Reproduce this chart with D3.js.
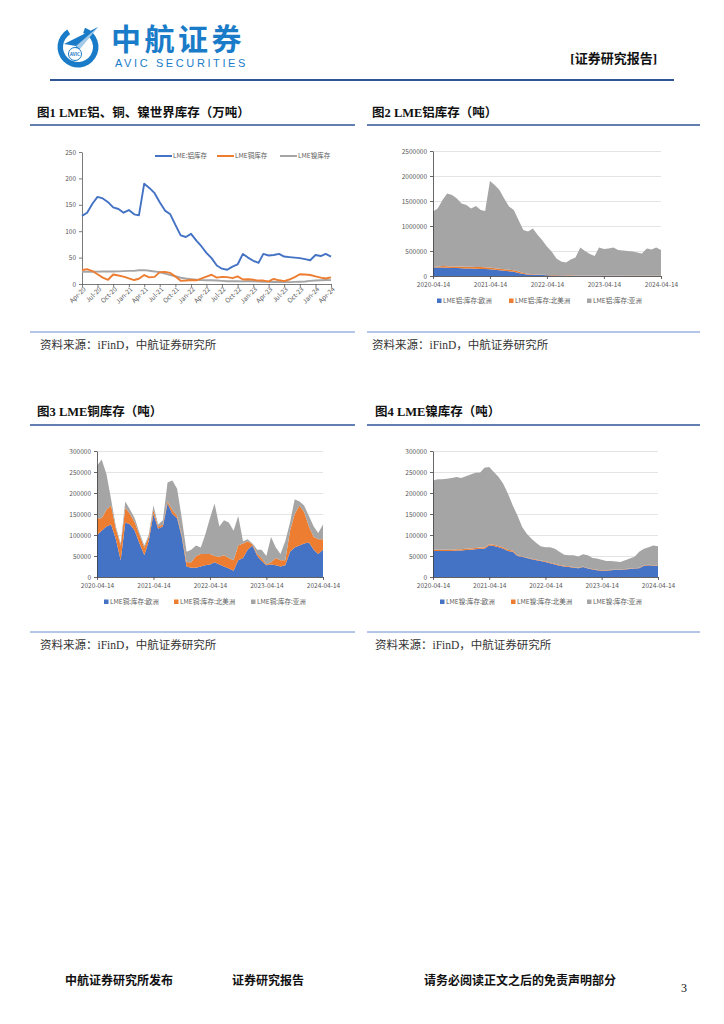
<!DOCTYPE html>
<html>
<head>
<meta charset="utf-8">
<script src="https://cdn.jsdelivr.net/npm/d3@7"></script>
<style>
  body { margin: 0; background: #fff; }
  svg text { font-family: "Noto Sans CJK SC", "Noto Sans", sans-serif; }
  .tick text { fill: #595959; font-size: 6.5px; }
  .title { font-family: "Liberation Serif", "Noto Sans CJK SC", serif !important; font-weight: bold; font-size: 12.5px; fill: #111; }
  .source { font-family: "Liberation Serif", "Noto Sans CJK SC", serif !important; font-size: 11.5px; fill: #333; }
  .foot { font-family: "Liberation Serif", "Noto Sans CJK SC", serif !important; font-weight: bold; font-size: 12px; fill: #111; }
  .legend text { fill: #595959; font-size: 6.5px; }
</style>
</head>
<body>
<div id="viz"></div>
<script>
const width = 724;
const height = 1024;

// monthly sample dates 2020-04-14 .. 2024-04-14 (category axis)
const startDate = new Date(2020, 3, 14);
const dates = d3.range(49).map(i => d3.timeMonth.offset(startDate, i));

// LME aluminium stock by region (t)
const aluEurope = [170000,170000,170000,165000,160000,160000,155000,150000,150000,145000,140000,140000,135000,125000,115000,105000,95000,85000,60000,40000,30000,25000,20000,18000,15000,12000,10000,8000,6000,5000,5000,4000,4000,4000,3000,3000,3000,3000,3000,3000,3000,2000,2000,2000,2000,2000,2000,2000,2000];
const aluNAmerica = [5000,20000,30000,30000,30000,30000,35000,35000,35000,35000,40000,35000,35000,30000,30000,30000,30000,30000,30000,20000,15000,10000,10000,7000,7000,8000,8000,8000,9000,8000,7000,7000,6000,6000,6000,6000,5000,5000,5000,5000,5000,5000,5000,5000,4000,4000,4000,4000,4000];
const aluAsia = [1115000,1160000,1320000,1455000,1430000,1360000,1260000,1235000,1165000,1220000,1140000,1125000,1730000,1665000,1575000,1415000,1265000,1205000,1030000,860000,845000,915000,790000,695000,568000,470000,332000,274000,255000,317000,358000,559000,490000,430000,391000,561000,532000,542000,562000,512000,502000,493000,483000,463000,444000,544000,524000,564000,514000];

// LME copper stock by region (t)
const cuEurope = [100000,110000,120000,125000,90000,40000,130000,125000,110000,80000,52000,85000,150000,115000,120000,175000,150000,140000,95000,25000,22000,22000,25000,28000,30000,35000,30000,25000,20000,15000,40000,45000,65000,75000,50000,38000,28000,30000,28000,25000,28000,60000,70000,75000,80000,82000,65000,55000,65000];
const cuNAmerica = [40000,30000,40000,45000,25000,35000,35000,25000,20000,20000,18000,10000,10000,5000,5000,5000,10000,5000,5000,10000,13000,28000,30000,27000,25000,15000,18000,27000,25000,25000,35000,35000,20000,3000,5000,7000,2000,5000,17000,15000,12000,50000,80000,95000,75000,38000,30000,35000,25000];
const cuAsia = [125000,140000,85000,15000,5000,5000,15000,10000,10000,5000,5000,5000,10000,5000,10000,45000,70000,65000,40000,25000,30000,25000,15000,45000,85000,125000,72000,83000,85000,70000,70000,5000,5000,2000,10000,20000,20000,60000,25000,15000,45000,20000,35000,10000,15000,25000,25000,15000,35000];

// LME nickel stock by region (t)
const niEurope = [62000,62000,62000,62000,62000,63000,63000,64000,65000,66000,67000,67000,75000,74000,71000,67000,62000,60000,50000,48000,45000,42000,40000,38000,36000,33000,30000,27000,25000,24000,22000,21000,24000,20000,18000,16000,15000,15000,16000,17000,17000,18000,19000,20000,21000,27000,28000,27000,27000];
const niNAmerica = [3000,3000,3000,3000,3000,3000,3000,3000,3000,3000,3000,3000,3000,3000,3000,3000,3000,3000,1500,1500,1500,1500,1500,1500,1500,1500,1500,1500,1500,1500,1000,1000,1000,1000,1000,1000,1000,1000,1000,1000,1000,1000,1000,1000,1000,1000,1000,1000,1000];
const niAsia = [165000,168000,168000,169000,171000,172000,170000,173000,176000,179000,179000,190000,184000,173000,164000,152000,133000,107000,95500,69500,56500,47500,39500,33500,33500,36500,35500,31500,26500,26500,29000,27000,29000,31000,26000,27000,25000,22000,21000,19000,18000,21000,24000,27000,38000,39000,42000,47000,45000];

const colors = ["#4472C4", "#ED7D31", "#A5A5A5"];

const svg = d3.select("#viz")
    .append("svg")
    .attr("width", width)
    .attr("height", height)
    .attr("viewBox", `0 0 ${width} ${height}`);

// ---------- page header ----------
const logo = svg.append("g");
const logoBlue = "#1A7CC8";
logo.append("path")
    .attr("d", d3.arc()({innerRadius: 15, outerRadius: 20.5, startAngle: 0.35, endAngle: 2 * Math.PI - 0.55}))
    .attr("transform", "translate(78,47)")
    .attr("fill", logoBlue);
logo.append("path")
    .attr("d", "M98,27 L64,44 L76,46 L74,56 Z")
    .attr("fill", logoBlue);
logo.append("path")
    .attr("d", "M98,27 L76,46 L80,49 Z")
    .attr("fill", "#fff").attr("opacity", 0.6);
logo.append("circle").attr("cx", 75).attr("cy", 54).attr("r", 6.5)
    .attr("fill", "#fff").attr("stroke", logoBlue).attr("stroke-width", 1);
logo.append("text").attr("x", 75).attr("y", 55.8).attr("text-anchor", "middle")
    .attr("font-size", 4.5).attr("font-weight", "bold").attr("fill", logoBlue).text("AVIC");
logo.append("text").attr("x", 111).attr("y", 50)
    .attr("font-size", 30).attr("font-weight", "bold").attr("letter-spacing", 3.5)
    .attr("fill", logoBlue).text("中航证券");
logo.append("text").attr("x", 115).attr("y", 67)
    .style("font-family", "'Liberation Sans', Arial, sans-serif")
    .attr("font-size", 11).attr("letter-spacing", 2.6)
    .attr("fill", logoBlue).text("AVIC  SECURITIES");

svg.append("text").attr("class", "title").attr("x", 657).attr("y", 63)
    .attr("text-anchor", "end").style("font-size", "13px").text("[证券研究报告]");
svg.append("line").attr("x1", 50).attr("x2", 674).attr("y1", 80).attr("y2", 80)
    .attr("stroke", "#2F5597").attr("stroke-width", 2);

// section titles / rules / sources
const panels = [
    {x: 37, lx: 30, rx: 355, ty: 117, ly: 125, sy: 332, sx: 40, title: "图1 LME铝、铜、镍世界库存（万吨）"},
    {x: 372, lx: 367, rx: 700, ty: 117, ly: 125, sy: 332, sx: 372, title: "图2 LME铝库存（吨）"},
    {x: 37, lx: 30, rx: 355, ty: 416, ly: 425, sy: 632, sx: 40, title: "图3 LME铜库存（吨）"},
    {x: 375, lx: 367, rx: 700, ty: 416, ly: 425, sy: 632, sx: 375, title: "图4 LME镍库存（吨）"}
];
panels.forEach(p => {
    svg.append("text").attr("class", "title").attr("x", p.x).attr("y", p.ty).text(p.title);
    svg.append("line").attr("x1", p.lx).attr("x2", p.rx).attr("y1", p.ly).attr("y2", p.ly)
        .attr("stroke", "#2F5597").attr("stroke-width", 1.5);
    svg.append("line").attr("x1", p.lx).attr("x2", p.rx).attr("y1", p.sy).attr("y2", p.sy)
        .attr("stroke", "#4472C4").attr("stroke-width", 0.8);
    svg.append("text").attr("class", "source").attr("x", p.sx).attr("y", p.sy + 17)
        .text("资料来源：iFinD，中航证券研究所");
});

// ---------- figure 1: world totals (10k t) ----------
const worldAlu = dates.map((d, i) => (aluEurope[i] + aluNAmerica[i] + aluAsia[i]) / 10000);
const worldCu = dates.map((d, i) => (cuEurope[i] + cuNAmerica[i] + cuAsia[i]) / 10000);
const worldNi = dates.map((d, i) => (niEurope[i] + niNAmerica[i] + niAsia[i]) / 10000);

(function () {
    const x0 = 82, x1 = 331, yb = 284, yt = 152;
    const xScale = d3.scaleTime().domain([dates[0], dates[48]]).range([x0, x1]);
    const yScale = d3.scaleLinear().domain([0, 250]).range([yb, yt]);
    const g = svg.append("g");

    const yAxisG = g.append("g").attr("transform", `translate(${x0},0)`)
        .call(d3.axisLeft(yScale).tickValues([0, 50, 100, 150, 200, 250]).tickSize(3).tickSizeOuter(0).tickPadding(3));
    yAxisG.selectAll("path, line").attr("stroke", "#595959").attr("stroke-width", 0.8);

    const quarters = d3.range(17).map(i => d3.timeMonth.offset(startDate, i * 3));
    const xAxisG = g.append("g").attr("transform", `translate(0,${yb})`)
        .call(d3.axisBottom(xScale).tickValues(quarters).tickFormat(d3.timeFormat("%b-%y")).tickSize(3).tickSizeOuter(0));
    xAxisG.selectAll("path, line").attr("stroke", "#595959").attr("stroke-width", 0.8);
    xAxisG.selectAll("text")
        .attr("text-anchor", "end")
        .attr("dx", "-0.2em").attr("dy", "0.4em")
        .attr("transform", "rotate(-45)")
        .attr("y", 4);

    const series = [
        {name: "LME:铝库存", values: worldAlu},
        {name: "LME铜库存", values: worldCu},
        {name: "LME镍库存", values: worldNi}
    ];
    // draw nickel, copper, aluminium so blue stays on top
    [2, 1, 0].forEach(k => {
        const line = d3.line().x((d, i) => xScale(dates[i])).y(d => yScale(d));
        g.append("path").attr("d", line(series[k].values))
            .attr("fill", "none").attr("stroke", colors[k]).attr("stroke-width", 1.9)
            .attr("stroke-linejoin", "round");
    });

    const legend = g.append("g").attr("class", "legend");
    const lx = [155, 217, 280];
    series.forEach((s, k) => {
        legend.append("line").attr("x1", lx[k]).attr("x2", lx[k] + 17).attr("y1", 156).attr("y2", 156)
            .attr("stroke", colors[k]).attr("stroke-width", 2);
        legend.append("text").attr("x", lx[k] + 18).attr("y", 158.3).text(s.name);
    });
})();

// ---------- figures 2-4: stacked regional areas ----------
function stackedChart(cfg) {
    const xScale = d3.scaleTime().domain([dates[0], dates[48]]).range([cfg.x0, cfg.x1]);
    const yScale = d3.scaleLinear().domain([0, cfg.max]).range([cfg.yb, cfg.yt]);
    const g = svg.append("g");

    // gridlines
    g.append("g").attr("transform", `translate(${cfg.x0},0)`)
        .call(d3.axisLeft(yScale).tickValues(cfg.yTicks).tickSize(-(cfg.x1 - cfg.x0)).tickFormat(""))
        .call(s => s.select(".domain").remove())
        .selectAll("line").attr("stroke", "#D9D9D9").attr("stroke-width", 0.7);

    const table = dates.map((d, i) => ({date: d, e: cfg.europe[i], n: cfg.namerica[i], a: cfg.asia[i]}));
    const stacked = d3.stack().keys(["e", "n", "a"])(table);
    const area = d3.area()
        .x(d => xScale(d.data.date))
        .y0(d => yScale(d[0]))
        .y1(d => yScale(d[1]));
    g.selectAll(".layer").data(stacked).join("path")
        .attr("class", "layer")
        .attr("d", area)
        .attr("fill", (d, i) => colors[i]);

    const yAxisG = g.append("g").attr("transform", `translate(${cfg.x0},0)`)
        .call(d3.axisLeft(yScale).tickValues(cfg.yTicks).tickFormat(d3.format("d")).tickSize(3).tickSizeOuter(0).tickPadding(3));
    yAxisG.selectAll("path, line").attr("stroke", "#404040").attr("stroke-width", 0.8);

    const years = d3.range(5).map(i => d3.timeYear.offset(startDate, i));
    const xAxisG = g.append("g").attr("transform", `translate(0,${cfg.yb})`)
        .call(d3.axisBottom(xScale).tickValues(years).tickFormat(d3.timeFormat("%Y-%m-%d")).tickSize(3).tickSizeOuter(0).tickPadding(3));
    xAxisG.selectAll("path, line").attr("stroke", "#404040").attr("stroke-width", 0.8);

    const legend = g.append("g").attr("class", "legend");
    cfg.names.forEach((n, k) => {
        legend.append("rect").attr("x", cfg.legendX[k]).attr("y", cfg.legendY - 3.5)
            .attr("width", 4.5).attr("height", 4.5).attr("fill", colors[k]);
        legend.append("text").attr("x", cfg.legendX[k] + 6).attr("y", cfg.legendY + 1).text(n);
    });
}

stackedChart({
    x0: 433, x1: 661, yb: 276, yt: 151, max: 2500000,
    yTicks: [0, 500000, 1000000, 1500000, 2000000, 2500000],
    europe: aluEurope, namerica: aluNAmerica, asia: aluAsia,
    names: ["LME铝:库存:欧洲", "LME铝:库存:北美洲", "LME铝:库存:亚洲"],
    legendX: [437, 509, 587], legendY: 302
});
stackedChart({
    x0: 97, x1: 323, yb: 577, yt: 451, max: 300000,
    yTicks: [0, 50000, 100000, 150000, 200000, 250000, 300000],
    europe: cuEurope, namerica: cuNAmerica, asia: cuAsia,
    names: ["LME铜:库存:欧洲", "LME铜:库存:北美洲", "LME铜:库存:亚洲"],
    legendX: [104, 174, 251], legendY: 603
});
stackedChart({
    x0: 433, x1: 658, yb: 577, yt: 451, max: 300000,
    yTicks: [0, 50000, 100000, 150000, 200000, 250000, 300000],
    europe: niEurope, namerica: niNAmerica, asia: niAsia,
    names: ["LME镍:库存:欧洲", "LME镍:库存:北美洲", "LME镍:库存:亚洲"],
    legendX: [440, 511, 587], legendY: 603
});

// ---------- footer ----------
svg.append("text").attr("class", "foot").attr("x", 65).attr("y", 985).text("中航证券研究所发布");
svg.append("text").attr("class", "foot").attr("x", 232).attr("y", 985).text("证券研究报告");
svg.append("text").attr("class", "foot").attr("x", 424).attr("y", 985).text("请务必阅读正文之后的免责声明部分");
svg.append("text").attr("class", "foot").attr("x", 681).attr("y", 992).style("font-weight", "normal").text("3");
</script>
</body>
</html>
